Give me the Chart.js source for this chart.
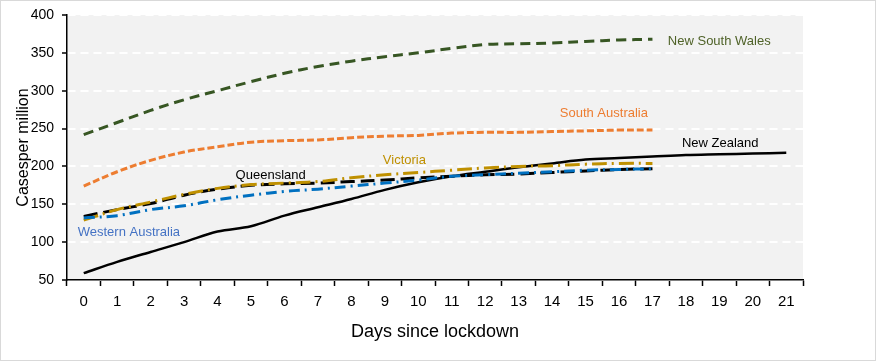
<!DOCTYPE html>
<html>
<head>
<meta charset="utf-8">
<script src="https://cdn.jsdelivr.net/npm/chart.js@4/dist/chart.umd.min.js"></script>
<style>
  body { margin: 0; background: #fff; }
  #wrap { width: 876px; height: 361px; }
</style>
</head>
<body>
<div id="wrap"><canvas id="lockdownChart" width="876" height="361"></canvas></div>
<script>
const days = ['0','1','2','3','4','5','6','7','8','9','10','11','12','13','14','15','16','17','18','19','20','21'];
const yTicks = [50, 100, 150, 200, 250, 300, 350, 400];

const newSouthWales = [242, 258, 274, 288, 300, 312, 323, 332, 339, 345, 350, 356, 361, 362, 363, 365, 367, 368];
const southAustralia = [174, 193, 208, 219, 226, 232, 234, 235, 238, 240, 241, 244, 245, 245, 246, 247, 248, 248];
const newZealand = [59, 74, 87, 100, 114, 121, 135, 146, 157, 169, 179, 187, 193, 199, 204, 209, 211, 213, 215, 216, 217, 218];
const queensland = [134, 143, 151, 162, 170, 175, 177, 178, 180, 182, 185, 187, 189, 190, 192, 194, 196, 197];
const victoria = [129, 143, 153, 163, 171, 176, 178, 180, 185, 189, 192, 195, 198, 200, 201, 203, 204, 204];
const westernAustralia = [132, 135, 143, 148, 156, 162, 167, 170, 174, 178, 182, 187, 189, 191, 193, 195, 196, 197];

// series labels drawn inside the plot, anchored in data units
const seriesLabels = [
    { text: 'New South Wales', day: 17.46, value: 365, color: '#4F6228' },
    { text: 'South Australia', day: 14.23, value: 270, color: '#ED7D31' },
    { text: 'New Zealand', day: 17.88, value: 231, color: '#000000' },
    { text: 'Queensland', day: 4.54, value: 188, color: '#000000' },
    { text: 'Victoria', day: 8.94, value: 208, color: '#BF9000' },
    { text: 'Western Australia', day: -0.18, value: 113, color: '#4472C4' }
];

const plotBackground = {
    id: 'plotBackground',
    beforeDraw(chart) {
        const { ctx, chartArea } = chart;
        ctx.save();
        ctx.fillStyle = '#f2f2f2';
        ctx.fillRect(chartArea.left, chartArea.top, chartArea.right - chartArea.left, chartArea.bottom - chartArea.top);
        ctx.restore();
    },
    afterDraw(chart) {
        const { ctx, scales } = chart;
        ctx.save();
        ctx.font = '13px "Liberation Sans", Arial, sans-serif';
        ctx.textAlign = 'left';
        ctx.textBaseline = 'middle';
        seriesLabels.forEach(l => {
            const x = scales.x.getPixelForValue(0) + (scales.x.getPixelForValue(1) - scales.x.getPixelForValue(0)) * l.day;
            const y = scales.y.getPixelForValue(l.value);
            ctx.fillStyle = l.color;
            ctx.fillText(l.text, x, y);
        });
        ctx.strokeStyle = '#d9d9d9';
        ctx.lineWidth = 1;
        ctx.strokeRect(0.5, 0.5, chart.width - 1, chart.height - 1);
        ctx.restore();
    }
};

function series(data, color, dash, width) {
    return {
        data: data,
        borderColor: color,
        backgroundColor: color,
        borderWidth: width,
        borderDash: dash,
        pointRadius: 0,
        tension: 0.35,
        fill: false
    };
}

const ctx = document.getElementById('lockdownChart').getContext('2d');
new Chart(ctx, {
    type: 'line',
    data: {
        labels: days,
        datasets: [
            series(newSouthWales, '#375623', [10, 6], 3),
            series(southAustralia, '#ED7D31', [7, 3], 3),
            series(westernAustralia, '#0070C0', [11, 5, 2, 5], 3),
            series(victoria, '#BF9000', [15, 5, 2, 5], 3),
            series(queensland, '#000000', [14, 6], 3),
            series(newZealand, '#000000', [], 2.5)
        ]
    },
    options: {
        responsive: false,
        animation: false,
        layout: { padding: { top: 14, right: 73, bottom: 0, left: 0 } },
        plugins: {
            legend: { display: false },
            tooltip: { enabled: false }
        },
        scales: {
            x: {
                offset: true,
                grid: { offset: true, drawOnChartArea: false, tickLength: 6, tickColor: '#000', tickWidth: 1.5 },
                border: { color: '#000', width: 1.5 },
                ticks: { color: '#000', font: { size: 15, lineHeight: 1, family: '"Liberation Sans", Arial, sans-serif' }, padding: 8, maxRotation: 0, autoSkip: false },
                title: { display: true, text: 'Days since lockdown', color: '#000', font: { size: 18, family: '"Liberation Sans", Arial, sans-serif' }, padding: { top: 8, bottom: 18 } },
                afterFit(scale) { scale.height = 81; }
            },
            y: {
                min: 50,
                max: 400,
                afterBuildTicks(scale) { scale.ticks = yTicks.map(v => ({ value: v })); },
                grid: { color: '#ffffff', lineWidth: 2, tickColor: '#000', tickLength: 5, tickWidth: 1.5 },
                border: { color: '#000', width: 1.5, dash: [8, 5] },
                ticks: { color: '#000', font: { size: 14, lineHeight: 1, family: '"Liberation Sans", Arial, sans-serif' }, padding: 8 },
                title: { display: true, text: 'Casesper million', color: '#000', font: { size: 16, family: '"Liberation Sans", Arial, sans-serif' }, padding: { top: 14, bottom: 2 } },
                afterFit(scale) { scale.width = 67; }
            }
        }
    },
    plugins: [plotBackground]
});
</script>
</body>
</html>
